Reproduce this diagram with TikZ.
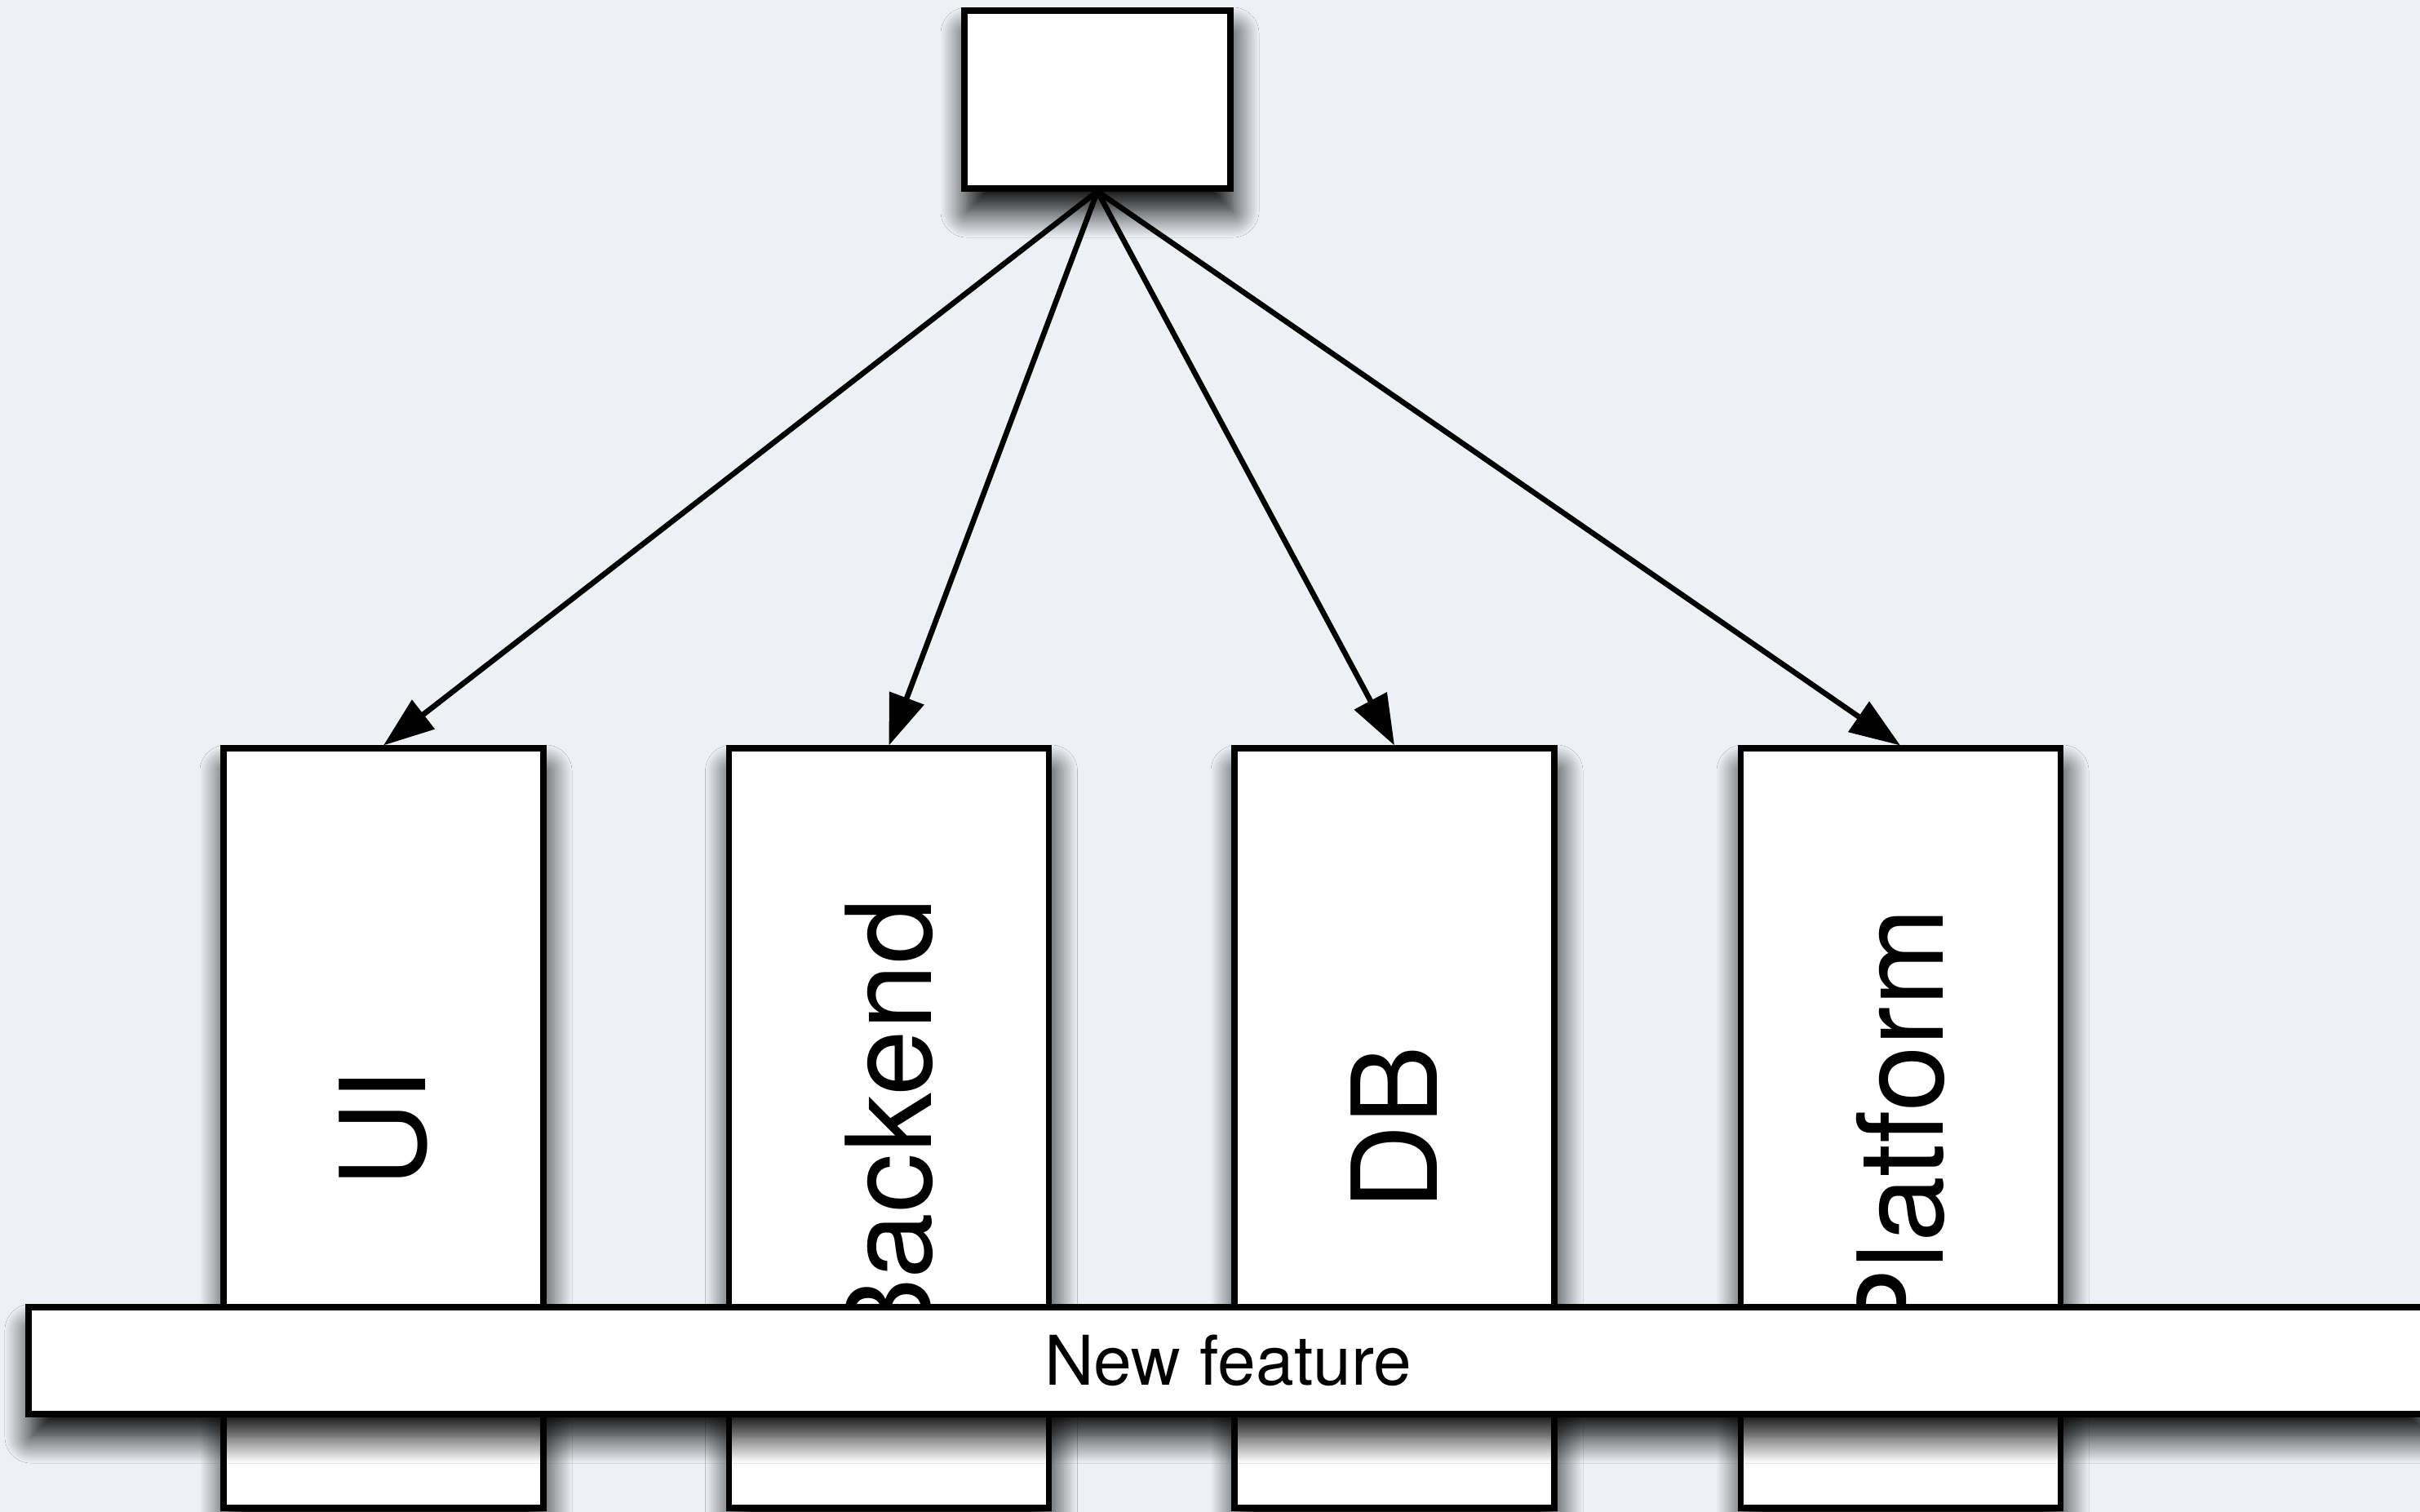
\documentclass[tikz,border=0pt]{standalone}
\usepackage{fontspec}
\setmainfont{TeX Gyre Heros}
\usetikzlibrary{arrows.meta,shadows.blur}

\definecolor{canvas}{RGB}{237,241,246}

\tikzset{
  shadowed/.style={blur shadow={shadow xshift=0.03cm, shadow yshift=-0.28cm,
                   shadow blur radius=0.32cm, shadow opacity=100, shadow blur steps=16}},
  box/.style={draw=black, line width=2pt, fill=white, inner sep=0pt, shadowed},
  layer/.style={box, minimum width=3.92cm, minimum height=9.31cm,
                font=\fontsize{41.3}{49}\selectfont},
  feature/.style={box, minimum width=29.40cm, minimum height=1.31cm,
                  font=\fontsize{23.9}{29}\selectfont},
  link/.style={line width=1.9pt, -{Triangle[length=0.62cm,width=0.44cm]}}
}

\begin{document}
\begin{tikzpicture}
  % canvas
  \fill[canvas] (0,0) rectangle (29.66,-18.53);
  \useasboundingbox (0,0) rectangle (29.66,-18.53);

  % root box
  \node[box, minimum width=3.26cm, minimum height=2.18cm] (root) at (13.45,-1.22) {};

  % the four layers
  \node[layer] (ui)       at (4.70,-13.825)  {\rotatebox{90}{UI}};
  \node[layer] (backend)  at (10.895,-13.825) {\rotatebox{90}{Backend}};
  \node[layer] (db)       at (17.09,-13.825) {\rotatebox{90}{DB}};
  \node[layer] (platform) at (23.29,-13.825) {\rotatebox{90}{Platform}};

  % connectors from the root box to each layer
  \draw[link] (root.south) -- (ui.north);
  \draw[link] (root.south) -- (backend.north);
  \draw[link] (root.south) -- (db.north);
  \draw[link] (root.south) -- (platform.north);

  % feature bar cutting across all layers
  \node[feature] (feat) at (15.05,-16.675) {New feature};
\end{tikzpicture}
\end{document}
